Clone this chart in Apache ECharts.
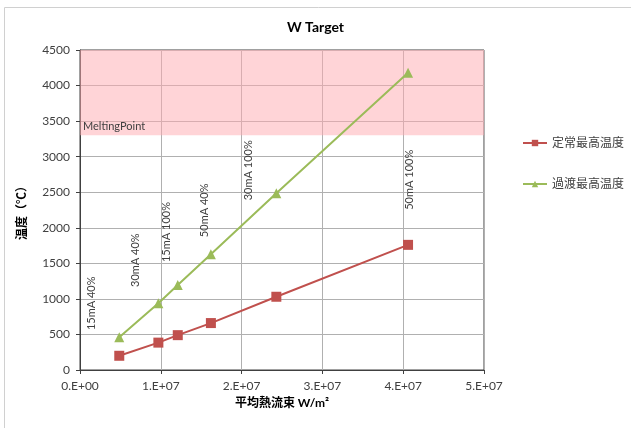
<!DOCTYPE html>
<html><head><meta charset="utf-8">
<script src="https://cdn.jsdelivr.net/npm/echarts@6/dist/echarts.min.js"></script>
<style>html,body{margin:0;padding:0;background:#fff}#c{width:631px;height:428px}</style>
</head><body><div id="c"></div>
<script>
var heatFlux = [4.86e6, 9.7e6, 1.21e7, 1.62e7, 2.43e7, 4.06e7];
var steadyMax = [200, 385, 490, 660, 1030, 1760];
var transientMax = [460, 940, 1195, 1627, 2485, 4180];
var pointLabels = ['15mA 40%', '30mA 40%', '15mA 100%', '50mA 40%', '30mA 100%', '50mA 100%'];
var meltingPoint = 3300;
// screen offsets (dx, dy) of each label centre from its point
var labelShift = [[-28, -34], [-23, -43], [-11, -53], [-6, -44], [-28, -23], [1, 107]];

var font = 'Lato, "Noto Sans CJK JP", sans-serif';
var redData = heatFlux.map(function (x, i) { return [x, steadyMax[i]]; });
var greenData = heatFlux.map(function (x, i) {
  var s = labelShift[i];
  return {
    value: [x, transientMax[i]],
    label: { show: true, formatter: pointLabels[i], position: 'inside', rotate: 90, offset: [-s[1], s[0]],
      fontSize: 11, color: '#404040', fontFamily: font }
  };
});

var chart = echarts.init(document.getElementById('c'));
chart.setOption({
  animation: false,
  textStyle: { fontFamily: font },
  title: { text: 'W Target', left: 'center', top: 15, textStyle: { fontSize: 14, fontWeight: 'bold', color: '#000', fontFamily: font } },
  graphic: [{ type: 'rect', shape: { x: 4.5, y: 7.5, width: 700, height: 500 }, style: { fill: 'none', stroke: '#d0d0d0', lineWidth: 1 }, silent: true }],
  grid: { left: 80, top: 50, width: 404, height: 320, show: true, borderColor: '#404040', borderWidth: 1, containLabel: false },
  legend: {
    orient: 'vertical', left: 517, top: 132, itemGap: 29, itemWidth: 24, itemHeight: 8,
    textStyle: { fontSize: 12, color: '#404040', fontFamily: font },
    data: ['定常最高温度', '過渡最高温度']
  },
  xAxis: {
    type: 'value', min: 0, max: 5e7, interval: 1e7,
    name: '平均熱流束 W/m²', nameLocation: 'middle', nameGap: 25,
    nameTextStyle: { fontSize: 12, fontWeight: 'bold', color: '#000', fontFamily: font },
    axisLine: { show: true, lineStyle: { color: '#404040' } },
    axisTick: { show: true, length: 4, lineStyle: { color: '#404040' } },
    axisLabel: { fontSize: 12, color: '#404040', margin: 10, formatter: function (v) { return v === 0 ? '0.E+00' : (v / 1e7) + '.E+07'; } },
    splitLine: { show: true, lineStyle: { color: '#b0b0b0' } }
  },
  yAxis: {
    type: 'value', min: 0, max: 4500, interval: 500,
    name: '温度（℃）', nameLocation: 'middle', nameGap: 52,
    nameTextStyle: { fontSize: 12, fontWeight: 'bold', color: '#000', fontFamily: font },
    axisLine: { show: true, lineStyle: { color: '#404040' } },
    axisTick: { show: true, length: 4, lineStyle: { color: '#404040' } },
    axisLabel: { fontSize: 12, color: '#404040', margin: 10, formatter: function (v) { return String(v); } },
    splitLine: { show: true, lineStyle: { color: '#b0b0b0' } }
  },
  series: [
    {
      name: '定常最高温度', type: 'line', data: redData, symbol: 'rect', symbolSize: 10,
      itemStyle: { color: '#c0504d' }, lineStyle: { color: '#c0504d', width: 2 }, z: 3,
      markArea: {
        silent: true, itemStyle: { color: 'rgba(255,170,175,0.5)' },
        label: { show: true, position: 'insideBottomLeft', formatter: 'MeltingPoint', fontSize: 11, color: '#404040', offset: [-2, 2] },
        data: [[{ yAxis: meltingPoint }, { yAxis: 4500 }]]
      }
    },
    {
      name: '過渡最高温度', type: 'line', data: greenData, symbol: 'triangle', symbolSize: 10,
      itemStyle: { color: '#9bbb59' }, lineStyle: { color: '#9bbb59', width: 2 }, z: 3
    }
  ]
});
</script></body></html>
